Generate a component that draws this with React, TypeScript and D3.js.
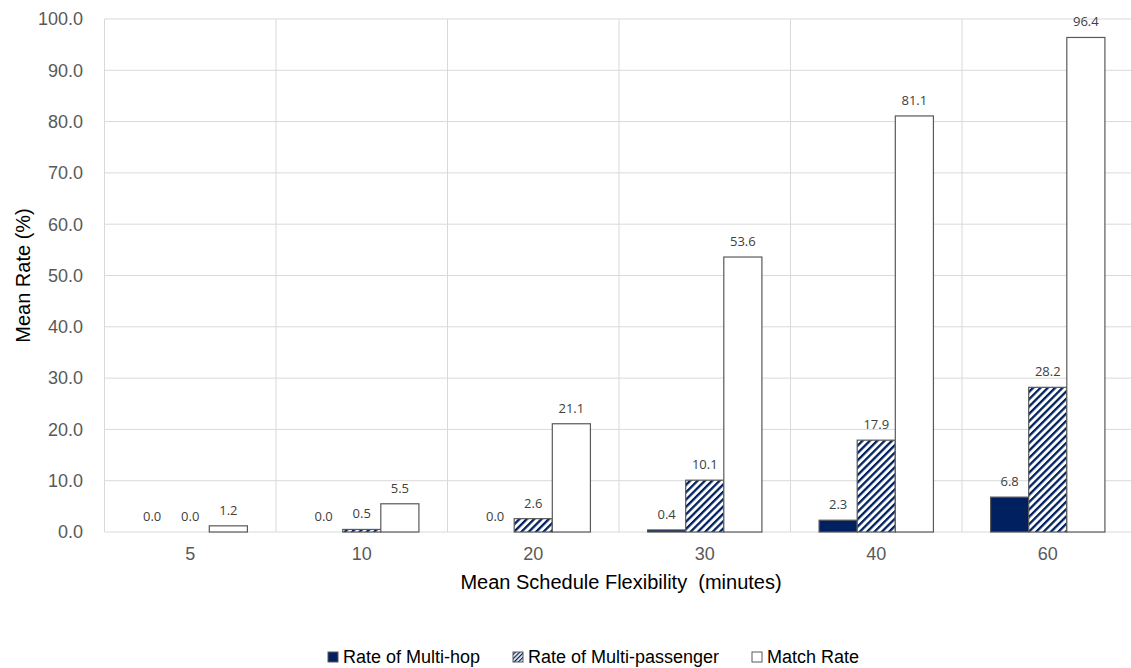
import React from "react";
import * as d3 from "d3";

const categories = ["5", "10", "20", "30", "40", "60"];
const multiHop = [0.0, 0.0, 0.0, 0.4, 2.3, 6.8];
const multiPassenger = [0.0, 0.5, 2.6, 10.1, 17.9, 28.2];
const matchRate = [1.2, 5.5, 21.1, 53.6, 81.1, 96.4];
const seriesNames = ["Rate of Multi-hop", "Rate of Multi-passenger", "Match Rate"];
const yTicks = [0, 10, 20, 30, 40, 50, 60, 70, 80, 90, 100];

const W = 1131;
const H = 668;
const NAVY = "#002060";
const STROKE = "#595959";
const GRID = "#d9d9d9";
const TEXT = "#595959";
const AXISFONT = "'Liberation Sans', Arial, sans-serif";
const LABELFONT = "'Open Sans', 'Noto Sans', sans-serif";

export default function App() {
  const x = d3.scaleBand<string>().domain(categories).range([104.5, 1133.5]).padding(0);
  const inner = d3
    .scaleBand<string>()
    .domain(seriesNames)
    .range([0, x.bandwidth()])
    .paddingInner(0)
    .paddingOuter(0.75);
  const y = d3.scaleLinear().domain([0, 100]).range([532, 19]);
  const series = [multiHop, multiPassenger, matchRate];
  const fills = [NAVY, "url(#hatch)", "#ffffff"];

  const legendItems = [
    { name: seriesNames[0], x: 328, fill: NAVY },
    { name: seriesNames[1], x: 513, fill: "url(#hatchSmall)" },
    { name: seriesNames[2], x: 752, fill: "#ffffff" },
  ];

  return (
    <svg width={W} height={H} style={{ position: "absolute", left: 0, top: 0, background: "#fff" }}>
      <defs>
        <pattern id="hatch" patternUnits="userSpaceOnUse" width={5.2} height={10} patternTransform="rotate(45)">
          <rect x={0} y={0} width={5.2} height={10} fill="#ffffff" />
          <rect x={0} y={0} width={2.3} height={10} fill={NAVY} />
        </pattern>
        <pattern id="hatchSmall" patternUnits="userSpaceOnUse" width={3} height={6} patternTransform="rotate(45)">
          <rect x={0} y={0} width={3} height={6} fill="#ffffff" />
          <rect x={0} y={0} width={1.3} height={6} fill={NAVY} />
        </pattern>
      </defs>

      {/* horizontal gridlines */}
      {yTicks.map((t) => (
        <line key={"h" + t} x1={104.5} x2={1133.5} y1={y(t)} y2={y(t)} stroke={GRID} strokeWidth={1} />
      ))}
      {/* vertical gridlines */}
      {categories.map((c) => (
        <line key={"v" + c} x1={x(c)!} x2={x(c)!} y1={y(100)} y2={y(0)} stroke={GRID} strokeWidth={1} />
      ))}

      {/* y tick labels */}
      {yTicks.map((t) => (
        <text
          key={"yt" + t}
          x={83}
          y={y(t)}
          dy="0.35em"
          textAnchor="end"
          fontFamily={AXISFONT}
          fontSize={18}
          fill={TEXT}
        >
          {t.toFixed(1)}
        </text>
      ))}

      {/* bars */}
      {categories.map((c, ci) =>
        series.map((s, si) => {
          const v = s[ci];
          const bx = x(c)! + inner(seriesNames[si])!;
          const bw = inner.bandwidth();
          const top = y(v);
          return (
            <g key={c + "-" + si}>
              {v > 0 && (
                <rect
                  x={bx}
                  y={top}
                  width={bw}
                  height={y(0) - top}
                  fill={fills[si]}
                  stroke={STROKE}
                  strokeWidth={1.2}
                />
              )}
              <text
                x={bx + bw / 2}
                y={top - 11}
                textAnchor="middle"
                fontFamily={LABELFONT}
                fontSize={13}
                fill="#404040"
              >
                {v.toFixed(1)}
              </text>
            </g>
          );
        })
      )}

      {/* x tick labels */}
      {categories.map((c) => (
        <text
          key={"xt" + c}
          x={x(c)! + x.bandwidth() / 2}
          y={560}
          textAnchor="middle"
          fontFamily={AXISFONT}
          fontSize={18}
          fill={TEXT}
        >
          {c}
        </text>
      ))}

      {/* axis titles */}
      <text
        x={621}
        y={589}
        textAnchor="middle"
        fontFamily={AXISFONT}
        fontSize={20}
        fill="#000"
        style={{ whiteSpace: "pre" }}
      >
        {"Mean Schedule Flexibility  (minutes)"}
      </text>
      <text
        transform={`translate(30,${y(50)}) rotate(-90)`}
        textAnchor="middle"
        fontFamily={AXISFONT}
        fontSize={20}
        fill="#000"
      >
        Mean Rate (%)
      </text>

      {/* legend */}
      {legendItems.map((it) => (
        <g key={it.name}>
          <rect x={it.x} y={652} width={10} height={10} fill={it.fill} stroke={STROKE} strokeWidth={1} />
          <text x={it.x + 15} y={663} fontFamily={AXISFONT} fontSize={18} fill="#000">
            {it.name}
          </text>
        </g>
      ))}
    </svg>
  );
}
